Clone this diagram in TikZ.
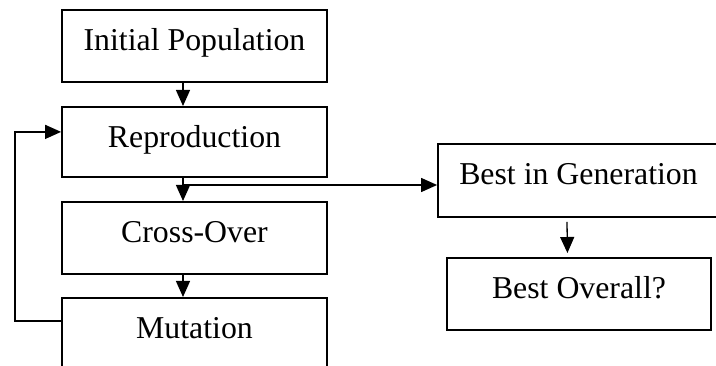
\documentclass[tikz,border=0pt]{standalone}
\usepackage{fontspec}
\setmainfont{Liberation Serif}
\usetikzlibrary{arrows.meta,calc}
\begin{document}
\begin{tikzpicture}[x=1pt,y=-1pt,
  box/.style={draw,line width=1.8pt,inner sep=0pt,anchor=north,
    font=\fontsize{31.8}{38}\selectfont,text height=41pt},
  arr/.style={line width=1.3pt,-{Triangle[length=16pt,width=14pt]}}]
\fill[white] (0,0) rectangle (716,366);
\useasboundingbox (0,0) rectangle (716,366);
\clip (0,0) rectangle (716,366);
\node[box,minimum width=265pt,text depth=31pt] (init) at (194.5,9) {Initial Population};
\node[box,minimum width=265pt,text depth=29pt] (rep) at (194.5,106) {Reproduction};
\node[box,minimum width=265pt,text depth=31pt] (cross) at (194.5,201) {Cross-Over};
\node[box,minimum width=265pt,text depth=60pt] (mut) at (194.5,297) {Mutation};
\node[box,minimum width=281pt,text depth=32pt] (big) at (578.5,143) {Best in Generation};
\node[box,minimum width=264pt,text depth=31pt] (bo) at (579,257) {Best Overall?};
\draw[arr] ([xshift=-11.5pt]init.south) -- ([xshift=-11.5pt]rep.north);
\draw[arr] ([xshift=-11.5pt]rep.south) -- ([xshift=-11.5pt]cross.north);
\coordinate (br) at (183,185);
\draw[arr] (br) -- (br -| big.west);
\draw[arr] ([xshift=-11.5pt]cross.south) -- ([xshift=-11.5pt]mut.north);
\draw[arr,shorten >=4pt] ([xshift=-11.5pt,yshift=-4pt]big.south) -- ([xshift=-11.5pt]bo.north);
\coordinate (lc) at (15,321);
\draw[arr] (mut.west |- lc) -- (lc) |- ([yshift=10pt]rep.west);
\end{tikzpicture}
\end{document}
